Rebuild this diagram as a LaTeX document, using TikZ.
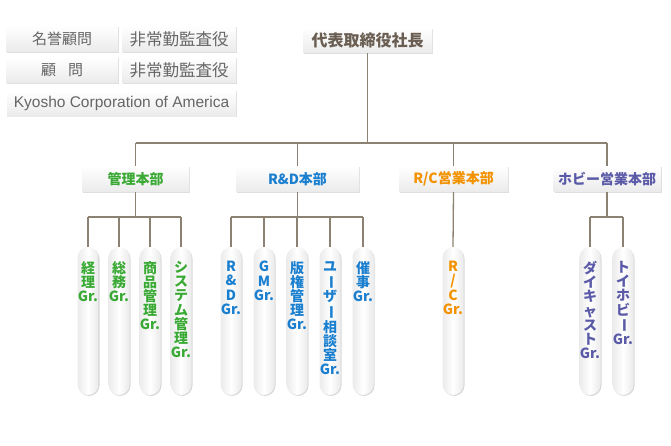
\documentclass[tikz,border=0pt]{standalone}
\usepackage{fontspec}
\usepackage{graphicx}
\usetikzlibrary{shadows}
\newfontfamily\jp{Noto Sans CJK JP}
\newfontfamily\lat{Liberation Sans}
\definecolor{linec}{HTML}{8C8274}
\definecolor{grn}{HTML}{3AAA35}
\definecolor{blu}{HTML}{1B7FCF}
\definecolor{org}{HTML}{F39200}
\definecolor{pur}{HTML}{5A5AA8}
\definecolor{topt}{HTML}{666666}
\definecolor{ceot}{HTML}{6A5D52}
\newcommand{\vbar}{\rotatebox[origin=c]{-90}{ー}}
\tikzset{
  gbox/.style={rectangle, inner sep=0pt, top color=white, bottom color=gray!16,
     drop shadow={shadow xshift=1pt, shadow yshift=-1pt, opacity=0.25}},
  topbox/.style={gbox, minimum height=26pt, font=\jp\fontsize{15}{16}\selectfont, text=topt},
  deptbox/.style={gbox, minimum height=26pt, font=\jp\bfseries\fontsize{14}{15}\selectfont},
  pill/.style={rectangle, rounded corners=10.5pt, minimum width=21pt, minimum height=148pt,
     inner sep=0pt, left color=gray!16, right color=gray!16, middle color=white,
     drop shadow={shadow xshift=1pt, shadow yshift=-1pt, opacity=0.3}},
  ptext/.style={anchor=north, align=center, inner sep=0pt, font=\jp\bfseries\fontsize{14}{14.2}\selectfont},
  conn/.style={draw=linec, line width=1.3pt}
}
\begin{document}
\begin{tikzpicture}[x=1pt,y=-1pt]
\useasboundingbox (0,0) rectangle (671,446);
% top-left boxes
\node[topbox, minimum width=112pt] (meiyo) at (62,39) {名誉顧問};
\node[topbox, minimum width=114pt, font=\jp\fontsize{16.5}{17}\selectfont] (hijo1) at (179,39) {非常勤監査役};
\node[topbox, minimum width=112pt] (komon) at (62,70) {顧\hspace{0.8em}問};
\node[topbox, minimum width=114pt, font=\jp\fontsize{16.5}{17}\selectfont] (hijo2) at (179,70) {非常勤監査役};
\node[topbox, minimum width=229pt, font=\lat\fontsize{15.5}{17}\selectfont] (kca) at (121.5,103.5) {Kyosho Corporation of America};
% CEO
\node[gbox, minimum width=129pt, minimum height=25pt, font=\jp\bfseries\fontsize{16}{17}\selectfont, text=ceot] (ceo) at (367.5,40.5) {代表取締役社長};
% departments
\node[deptbox, minimum width=107pt, text=grn] (kanri) at (135.5,179) {管理本部};
\node[deptbox, minimum width=123pt, text=blu] (rd) at (297.5,179) {R\&D本部};
\node[deptbox, minimum width=109pt, text=org] (rc) at (453.5,179) {R/C営業本部};
\node[deptbox, minimum width=107pt, text=pur] (hobby) at (607,179) {ホビー営業本部};
\coordinate (bar) at (0,143);
\coordinate (sub) at (0,217);
% pills
\foreach \n/\x in {k1/88,k2/119,k3/150,k4/181,r1/231,r2/264,r3/297,r4/330,r5/363,c1/453,h1/590,h2/623}{
  \node[pill] (\n) at (\x,321) {};
}
\node[ptext, text=grn] (tk1) at (88,261) {経\\理\\Gr.};
\node[ptext, text=grn] (tk2) at (119,261) {総\\務\\Gr.};
\node[ptext, text=grn] (tk3) at (150,261) {商\\品\\管\\理\\Gr.};
\node[ptext, text=grn] (tk4) at (181,261) {シ\\ス\\テ\\ム\\管\\理\\Gr.};
\node[ptext, text=blu] (tr1) at (231,261) {R\\\&\\D\\Gr.};
\node[ptext, text=blu] (tr2) at (264,261) {G\\M\\Gr.};
\node[ptext, text=blu] (tr3) at (297,261) {版\\権\\管\\理\\Gr.};
\node[ptext, text=blu] (tr4) at (330,261) {ユ\\\vbar\\ザ\\\vbar\\相\\談\\室\\Gr.};
\node[ptext, text=blu] (tr5) at (363,261) {催\\事\\Gr.};
\node[ptext, text=org] (tc1) at (453,261) {R\\/\\C\\Gr.};
\node[ptext, text=pur] (th1) at (590,261) {ダ\\イ\\キ\\ャ\\ス\\ト\\Gr.};
\node[ptext, text=pur] (th2) at (623,261) {ト\\イ\\ホ\\ビ\\\vbar\\Gr.};
% connectors
\draw[conn] (ceo.south) -- (ceo.south |- bar);
\draw[conn] (kanri |- bar) -- (hobby |- bar);
\foreach \d in {kanri,rd,rc,hobby}{
  \draw[conn] (\d |- bar) -- (\d.north);
}
\draw[conn] (kanri.south) -- (kanri.south |- sub);
\draw[conn] (k1 |- sub) -- (k4 |- sub);
\foreach \n in {k1,k2,k3,k4}{ \draw[conn] (\n |- sub) -- (\n.north); }
\draw[conn] (rd.south) -- (rd.south |- sub);
\draw[conn] (r1 |- sub) -- (r5 |- sub);
\foreach \n in {r1,r2,r3,r4,r5}{ \draw[conn] (\n |- sub) -- (\n.north); }
\draw[conn] (rc.south) -- (c1.north);
\draw[conn] (hobby.south) -- (hobby.south |- sub);
\draw[conn] (h1 |- sub) -- (h2 |- sub);
\foreach \n in {h1,h2}{ \draw[conn] (\n |- sub) -- (\n.north); }
\end{tikzpicture}
\end{document}
